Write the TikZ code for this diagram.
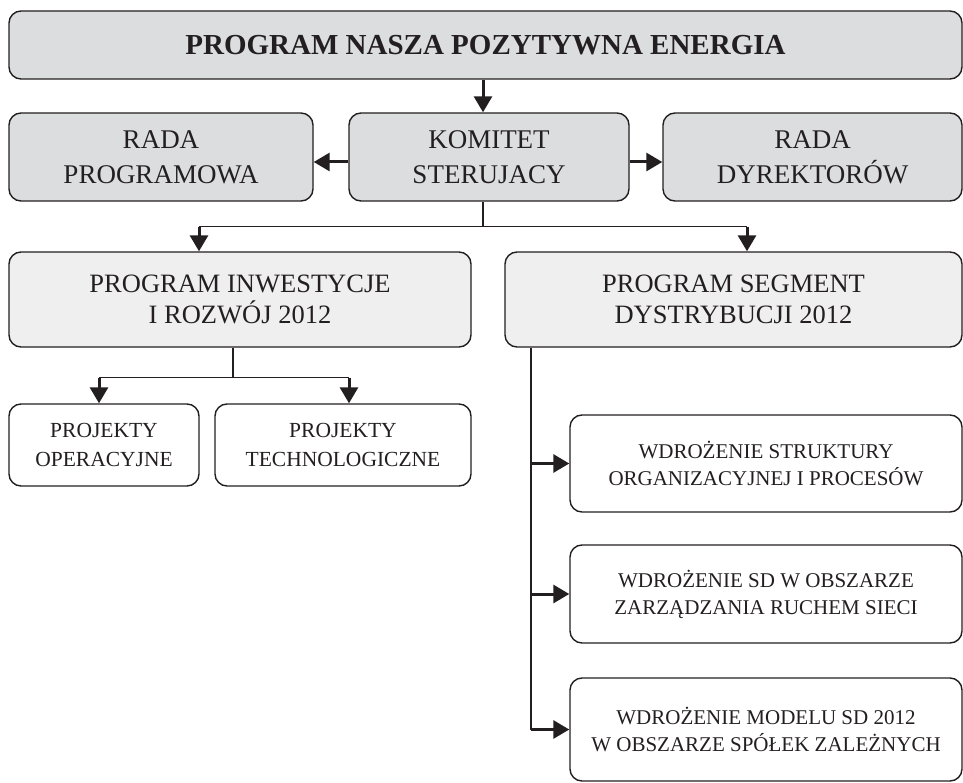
\documentclass[tikz,border=0pt]{standalone}
\usepackage{fontspec}
\setmainfont{Liberation Serif}
\usepackage{xcolor}
\usetikzlibrary{arrows.meta,positioning,calc}

\definecolor{boxgray}{RGB}{220,221,223}
\definecolor{boxlight}{RGB}{239,239,240}
\definecolor{ink}{RGB}{35,31,32}

\begin{document}
\begin{tikzpicture}[x=1pt, y=-1pt,
  box/.style={draw=ink, line width=1.4pt, rounded corners=12pt, align=center, inner sep=0pt, text=ink},
  mainbox/.style={box, fill=boxgray, font=\fontsize{29}{34}\selectfont\bfseries},
  boardbox/.style={box, fill=boxgray, minimum height=88pt, font=\fontsize{27}{35}\selectfont},
  progbox/.style={box, fill=boxlight, minimum height=95pt, font=\fontsize{26.5}{31.5}\selectfont},
  projbox/.style={box, fill=white, minimum height=82pt, font=\fontsize{21.5}{29}\selectfont},
  wdrbox/.style={box, fill=white, minimum width=392pt, font=\fontsize{21}{27}\selectfont},
  conn/.style={draw=ink, line width=1.4pt},
  arr/.style={draw=ink, line width=3pt, -{Triangle[length=16pt,width=18pt]}}
]
  \useasboundingbox (0,0) rectangle (963,783);

  \node[mainbox, minimum width=953pt, minimum height=68pt] (nasza) at (485.5,45) {PROGRAM NASZA POZYTYWNA ENERGIA};
  \node[boardbox, minimum width=304pt] (radaprog) at (161,157) {RADA\\ PROGRAMOWA};
  \node[boardbox, minimum width=280pt] (komitet) at (489,157) {KOMITET\\ STERUJACY};
  \node[boardbox, minimum width=299pt] (radadyr) at (812.5,157) {RADA\\ DYREKTORÓW};
  \node[progbox, minimum width=462pt] (inwest) at (240,299.5) {PROGRAM INWESTYCJE\\ I ROZWÓJ 2012};
  \node[progbox, minimum width=457pt] (segment) at (733.5,299.5) {PROGRAM SEGMENT\\ DYSTRYBUCJI 2012};
  \node[projbox, minimum width=190pt] (operac) at (104,445) {PROJEKTY\\ OPERACYJNE};
  \node[projbox, minimum width=256pt] (technol) at (343,445) {PROJEKTY\\ TECHNOLOGICZNE};
  \node[wdrbox, minimum height=97pt] (struktura) at (766,463.5) {WDROŻENIE STRUKTURY\\ ORGANIZACYJNEJ I PROCESÓW};
  \node[wdrbox, minimum height=98pt] (ruch) at (766,594) {WDROŻENIE SD W OBSZARZE\\ ZARZĄDZANIA RUCHEM SIECI};
  \node[wdrbox, minimum height=103pt] (spolki) at (766,729.5) {WDROŻENIE MODELU SD 2012\\ W OBSZARZE SPÓŁEK ZALEŻNYCH};

  % top levels
  \coordinate (kx) at (483,0);
  \draw[arr] (nasza.south -| kx) -- (komitet.north -| kx);
  \draw[arr] ([yshift=-5pt]komitet.west) -- ([yshift=-5pt]radaprog.east);
  \draw[arr] ([yshift=-5pt]komitet.east) -- ([yshift=-5pt]radadyr.west);

  % programs
  \coordinate (ia) at (199,0);
  \coordinate (sa) at (747,0);
  \draw[conn] (komitet.south -| kx) -- ++(0,25) coordinate (kb);
  \draw[conn] (kb -| ia) -- (kb -| sa);
  \draw[arr] (kb -| ia) -- (inwest.north -| ia);
  \draw[arr] (kb -| sa) -- (segment.north -| sa);

  % projects
  \coordinate (ix) at (233,0);
  \coordinate (oa) at (99,0);
  \coordinate (ta) at (349,0);
  \draw[conn] (inwest.south -| ix) -- ++(0,30) coordinate (ib);
  \draw[conn] (ib -| oa) -- (ib -| ta);
  \draw[arr] (ib -| oa) -- (operac.north -| oa);
  \draw[arr] (ib -| ta) -- (technol.north -| ta);

  % segment
  \coordinate (sx) at (531,0);
  \draw[conn] (segment.south -| sx) -- (spolki.west -| sx);
  \foreach \w in {struktura,ruch,spolki}
    \draw[arr] (\w.west -| sx) -- (\w.west);
\end{tikzpicture}
\end{document}
